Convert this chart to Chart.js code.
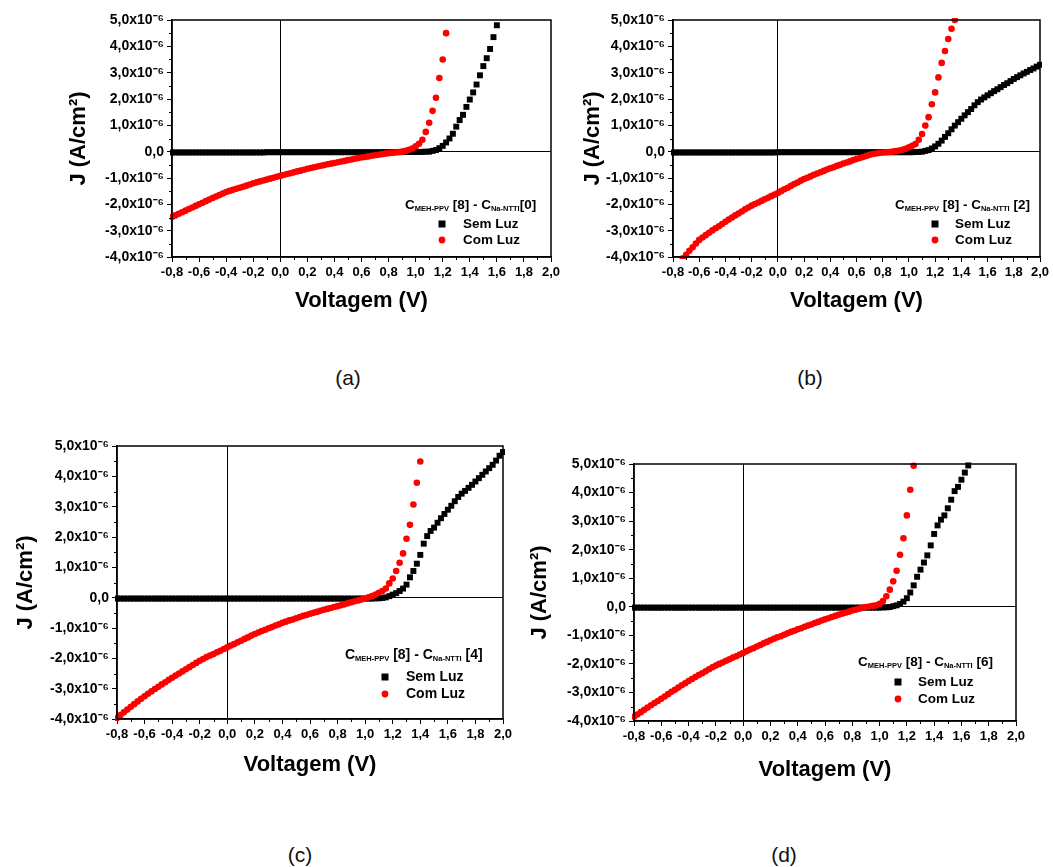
<!DOCTYPE html>
<html><head><meta charset="utf-8">
<script src="https://cdn.jsdelivr.net/npm/chart.js@4.4.1/dist/chart.umd.min.js"></script>
<style>
html,body{margin:0;padding:0;background:#fff}
body{width:1053px;height:867px;position:relative;overflow:hidden;font-family:"Liberation Sans",Arial,sans-serif}
canvas{position:absolute}
.lab{position:absolute;font-size:21px;color:#111;transform:translateX(-50%);line-height:24px}
</style></head><body>
<canvas id="ca"></canvas><canvas id="cb"></canvas><canvas id="cc"></canvas><canvas id="cd"></canvas>
<div class="lab" style="left:348px;top:366px">(a)</div>
<div class="lab" style="left:810px;top:366px">(b)</div>
<div class="lab" style="left:300px;top:843px">(c)</div>
<div class="lab" style="left:784px;top:843px">(d)</div>
<script>
// Voltage grid (V)
const V = [-0.8,-0.775,-0.75,-0.725,-0.7,-0.675,-0.65,-0.625,
-0.6,-0.575,-0.55,-0.525,-0.5,-0.475,-0.45,-0.425,
-0.4,-0.375,-0.35,-0.325,-0.3,-0.275,-0.25,-0.225,
-0.2,-0.175,-0.15,-0.125,-0.1,-0.075,-0.05,-0.025,
0,0.025,0.05,0.075,0.1,0.125,0.15,0.175,
0.2,0.225,0.25,0.275,0.3,0.325,0.35,0.375,
0.4,0.425,0.45,0.475,0.5,0.525,0.55,0.575,
0.6,0.625,0.65,0.675,0.7,0.725,0.75,0.775,
0.8,0.825,0.85,0.875,0.9,0.925,0.95,0.975,
1,1.025,1.05,1.075,1.1,1.125,1.15,1.175,
1.2,1.225,1.25,1.275,1.3,1.325,1.35,1.375,
1.4,1.425,1.45,1.475,1.5,1.525,1.55,1.575,
1.6,1.625,1.65,1.675,1.7,1.725,1.75,1.775,
1.8,1.825,1.85,1.875,1.9,1.925,1.95,1.975,
2];
// J values in units of 1e-6 A/cm^2
const semLuzA = [-0.03,-0.03,-0.03,-0.03,-0.03,-0.03,-0.03,-0.03,
-0.03,-0.03,-0.03,-0.03,-0.03,-0.03,-0.03,-0.03,
-0.03,-0.03,-0.03,-0.03,-0.03,-0.03,-0.03,-0.03,
-0.03,-0.03,-0.03,-0.03,-0.02,-0.02,-0.02,-0.02,
-0.02,-0.02,-0.02,-0.02,-0.02,-0.02,-0.02,-0.02,
-0.02,-0.02,-0.02,-0.02,-0.02,-0.02,-0.02,-0.02,
-0.02,-0.02,-0.02,-0.02,-0.02,-0.02,-0.02,-0.02,
-0.02,-0.02,-0.02,-0.02,-0.02,-0.02,-0.02,-0.02,
-0.02,-0.02,-0.02,-0.02,-0.01,-0.01,-0.01,-0.01,
-0.01,-0.01,-0.01,0.0,0.0,0.03,0.06,0.13,
0.22,0.35,0.5,0.68,0.95,1.2,1.4,1.7,
1.98,2.25,2.55,2.9,3.25,3.55,3.9,4.35,
4.8,null,null,null,null,null,null,null,
null,null,null,null,null,null,null,null,
null];
const comLuzA = [-2.48,-2.42,-2.36,-2.30,-2.24,-2.18,-2.12,-2.06,
-2.00,-1.94,-1.88,-1.82,-1.76,-1.70,-1.65,-1.59,
-1.53,-1.49,-1.45,-1.41,-1.37,-1.33,-1.29,-1.245,
-1.20,-1.165,-1.13,-1.095,-1.06,-1.025,-0.99,-0.955,
-0.92,-0.885,-0.85,-0.82,-0.785,-0.75,-0.72,-0.685,
-0.65,-0.62,-0.59,-0.565,-0.535,-0.51,-0.48,-0.455,
-0.43,-0.40,-0.375,-0.35,-0.32,-0.295,-0.27,-0.245,
-0.22,-0.20,-0.18,-0.155,-0.135,-0.115,-0.095,-0.075,
-0.06,-0.045,-0.03,-0.015,0.0,0.03,0.07,0.12,
0.2,0.3,0.45,0.75,1.1,1.55,2.05,2.8,
3.5,4.5,null,null,null,null,null,null,
null,null,null,null,null,null,null,null,
null,null,null,null,null,null,null,null,
null,null,null,null,null,null,null,null,
null];
const semLuzB = [-0.03,-0.03,-0.03,-0.03,-0.03,-0.03,-0.03,-0.03,
-0.03,-0.03,-0.03,-0.03,-0.03,-0.03,-0.03,-0.03,
-0.03,-0.03,-0.03,-0.03,-0.03,-0.03,-0.03,-0.03,
-0.03,-0.03,-0.03,-0.03,-0.03,-0.03,-0.03,-0.03,
-0.02,-0.02,-0.02,-0.02,-0.02,-0.02,-0.02,-0.02,
-0.02,-0.02,-0.02,-0.02,-0.02,-0.02,-0.02,-0.02,
-0.02,-0.02,-0.02,-0.02,-0.02,-0.02,-0.02,-0.02,
-0.02,-0.02,-0.02,-0.02,-0.02,-0.02,-0.02,-0.02,
-0.02,-0.02,-0.02,-0.02,-0.02,-0.02,-0.02,-0.02,
-0.02,-0.02,-0.01,-0.01,0.0,0.03,0.06,0.12,
0.2,0.3,0.42,0.56,0.7,0.85,0.99,1.12,
1.25,1.38,1.5,1.62,1.76,1.88,1.98,2.06,
2.14,2.22,2.3,2.37,2.45,2.53,2.6,2.68,
2.76,2.83,2.9,2.97,3.03,3.1,3.16,3.23,
3.3];
const comLuzB = [-4.45,-4.31,-4.18,-4.05,-3.92,-3.76,-3.63,-3.49,
-3.35,-3.26,-3.17,-3.08,-2.99,-2.91,-2.83,-2.75,
-2.66,-2.58,-2.50,-2.42,-2.35,-2.27,-2.19,-2.12,
-2.05,-1.99,-1.93,-1.87,-1.81,-1.75,-1.69,-1.63,
-1.57,-1.50,-1.43,-1.37,-1.30,-1.23,-1.17,-1.10,
-1.04,-0.99,-0.94,-0.88,-0.83,-0.78,-0.73,-0.68,
-0.63,-0.59,-0.54,-0.50,-0.45,-0.41,-0.37,-0.32,
-0.28,-0.24,-0.20,-0.16,-0.12,-0.09,-0.07,-0.05,
-0.03,-0.02,-0.01,0.0,0.02,0.04,0.07,0.11,
0.17,0.22,0.29,0.45,0.67,0.99,1.31,1.8,
2.25,2.82,3.37,3.82,4.28,4.67,5.0,null,
null,null,null,null,null,null,null,null,
null,null,null,null,null,null,null,null,
null,null,null,null,null,null,null,null,
null];
const semLuzC = [-0.03,-0.03,-0.03,-0.03,-0.03,-0.03,-0.03,-0.03,
-0.03,-0.03,-0.03,-0.03,-0.03,-0.03,-0.03,-0.03,
-0.03,-0.03,-0.03,-0.03,-0.03,-0.03,-0.03,-0.03,
-0.03,-0.03,-0.03,-0.03,-0.03,-0.03,-0.03,-0.03,
-0.03,-0.03,-0.03,-0.03,-0.03,-0.03,-0.03,-0.03,
-0.03,-0.03,-0.03,-0.03,-0.03,-0.03,-0.03,-0.03,
-0.03,-0.03,-0.03,-0.03,-0.03,-0.03,-0.03,-0.03,
-0.03,-0.03,-0.03,-0.03,-0.03,-0.03,-0.03,-0.03,
-0.03,-0.03,-0.03,-0.03,-0.03,-0.03,-0.03,-0.03,
-0.03,-0.03,-0.03,-0.02,-0.02,-0.01,0.01,0.05,
0.1,0.15,0.22,0.3,0.43,0.67,0.88,1.12,
1.41,1.78,2.03,2.2,2.31,2.47,2.62,2.76,
2.9,3.03,3.18,3.32,3.43,3.52,3.62,3.72,
3.83,3.94,4.05,4.16,4.27,4.38,4.52,4.68,
4.8];
const comLuzC = [-3.97,-3.87,-3.78,-3.69,-3.60,-3.51,-3.42,-3.33,
-3.25,-3.17,-3.09,-3.01,-2.94,-2.86,-2.79,-2.71,
-2.64,-2.57,-2.50,-2.43,-2.36,-2.29,-2.22,-2.15,
-2.08,-2.02,-1.96,-1.91,-1.86,-1.80,-1.75,-1.69,
-1.64,-1.58,-1.53,-1.47,-1.42,-1.36,-1.31,-1.25,
-1.20,-1.15,-1.10,-1.06,-1.01,-0.97,-0.92,-0.88,
-0.83,-0.79,-0.75,-0.72,-0.68,-0.64,-0.60,-0.57,
-0.53,-0.50,-0.47,-0.43,-0.40,-0.37,-0.34,-0.31,
-0.28,-0.25,-0.22,-0.18,-0.15,-0.12,-0.09,-0.06,
-0.03,0.01,0.05,0.1,0.16,0.22,0.3,0.47,
0.63,0.88,1.15,1.46,1.94,2.4,3.07,3.79,
4.49,null,null,null,null,null,null,null,
null,null,null,null,null,null,null,null,
null,null,null,null,null,null,null,null,
null];
const semLuzD = [-0.03,-0.03,-0.03,-0.03,-0.03,-0.03,-0.03,-0.03,
-0.03,-0.03,-0.03,-0.03,-0.03,-0.03,-0.03,-0.03,
-0.03,-0.03,-0.03,-0.03,-0.03,-0.03,-0.03,-0.03,
-0.03,-0.03,-0.03,-0.03,-0.03,-0.03,-0.03,-0.03,
-0.03,-0.03,-0.03,-0.03,-0.03,-0.03,-0.03,-0.03,
-0.03,-0.03,-0.03,-0.03,-0.03,-0.03,-0.03,-0.03,
-0.03,-0.03,-0.03,-0.03,-0.03,-0.03,-0.03,-0.03,
-0.03,-0.03,-0.03,-0.03,-0.03,-0.03,-0.03,-0.03,
-0.03,-0.03,-0.03,-0.03,-0.03,-0.03,-0.03,-0.03,
-0.03,-0.02,-0.02,-0.01,0.02,0.05,0.1,0.18,
0.3,0.5,0.75,1.05,1.3,1.55,1.8,2.15,
2.55,2.85,3.05,3.2,3.45,3.75,4.05,4.2,
4.45,4.7,4.95,null,null,null,null,null,
null,null,null,null,null,null,null,null,
null];
const comLuzD = [-3.85,-3.77,-3.69,-3.61,-3.53,-3.45,-3.37,-3.30,
-3.22,-3.14,-3.06,-2.98,-2.91,-2.83,-2.75,-2.68,
-2.60,-2.53,-2.46,-2.39,-2.33,-2.26,-2.19,-2.12,
-2.06,-2.00,-1.95,-1.89,-1.84,-1.78,-1.73,-1.67,
-1.62,-1.56,-1.50,-1.45,-1.39,-1.34,-1.28,-1.23,
-1.17,-1.12,-1.07,-1.03,-0.98,-0.93,-0.88,-0.84,
-0.79,-0.75,-0.70,-0.66,-0.62,-0.57,-0.53,-0.48,
-0.44,-0.40,-0.36,-0.32,-0.28,-0.24,-0.21,-0.17,
-0.13,-0.10,-0.07,-0.04,-0.01,0.01,0.03,0.05,
0.1,0.2,0.37,0.6,0.89,1.26,1.82,2.4,
3.2,4.1,4.94,null,null,null,null,null,
null,null,null,null,null,null,null,null,
null,null,null,null,null,null,null,null,
null,null,null,null,null,null,null,null,
null];
const xTicks = [-0.8,-0.6,-0.4,-0.2,0,0.2,0.4,0.6,0.8,1.0,1.2,1.4,1.6,1.8,2.0];
const yTicks = [-4,-3,-2,-1,0,1,2,3,4,5];
const seriesNames = ['Sem Luz','Com Luz'];
const legendTags = ['[0]',' [2]',' [4]',' [6]'];

const FONT = '"Liberation Sans", Arial, sans-serif';
const fmt = v => v.toFixed(1).replace('.', ',');

const panels = [
  {id:'ca', area:[172,20,551,257], yTitleX:79, xGap:44, sem:semLuzA, com:comLuzA, tag:legendTags[0],
   lg:{titleL:146, titleY:52, rows:[33,17], mark:109, text:88, font:13.5, sub:7.5}},
  {id:'cb', area:[673,20,1040,257], yTitleX:593, xGap:44, sem:semLuzB, com:comLuzB, tag:legendTags[1],
   lg:{titleL:145, titleY:52, rows:[33,17], mark:105, text:85, font:13.5, sub:7.5}},
  {id:'cc', area:[117,446,503,719], yTitleX:26, xGap:46, sem:semLuzC, com:comLuzC, tag:legendTags[2],
   lg:{titleL:158, titleY:64, rows:[42,25], mark:118, text:97, font:14, sub:7.5}},
  {id:'cd', area:[634,464,1016,721], yTitleX:540, xGap:49, sem:semLuzD, com:comLuzD, tag:legendTags[3],
   lg:{titleL:158, titleY:59, rows:[39,22], mark:118, text:98, font:13.5, sub:7.5}}
];

const LEFTW = 120, TOPP = 20, RIGHTP = 25, BOTH = 62;

const framePlugin = {
  id:'frame',
  afterDatasetsDraw(chart, args, opts){
    const {ctx, chartArea:{left,top,right,bottom}, scales:{x,y}} = chart;
    ctx.save();
    ctx.strokeStyle = '#000';
    ctx.lineWidth = 1;
    ctx.beginPath();
    for (let i=0;i<xTicks.length-1;i++){
      const px = Math.round(x.getPixelForValue((xTicks[i]+xTicks[i+1])/2))+0.5;
      ctx.moveTo(px,bottom); ctx.lineTo(px,bottom+3);
    }
    for (let i=0;i<yTicks.length-1;i++){
      const py = Math.round(y.getPixelForValue((yTicks[i]+yTicks[i+1])/2))+0.5;
      ctx.moveTo(left,py); ctx.lineTo(left-3,py);
    }
    ctx.stroke();
    ctx.lineWidth = 1.5;
    ctx.strokeRect(left, top, right-left, bottom-top);
    const lg = opts.lg;
    ctx.fillStyle = '#000';
    const big = `bold ${lg.font}px ${FONT}`, small = `bold ${lg.sub}px ${FONT}`;
    let tx = right - lg.titleL;
    const ty = bottom - lg.titleY;
    ctx.textBaseline = 'middle';
    ctx.textAlign = 'left';
    const parts = [['C',0],['MEH-PPV',1],[' [8] - C',0],['Na-NTTI',1],[opts.tag,0]];
    for (const [t,s] of parts){
      ctx.font = s ? small : big;
      ctx.fillText(t, tx, ty + (s ? 4 : 0));
      tx += ctx.measureText(t).width;
    }
    const mx = right - lg.mark, txx = right - lg.text;
    const y1 = bottom - lg.rows[0], y2 = bottom - lg.rows[1];
    ctx.fillStyle = '#000';
    ctx.fillRect(mx-3.5, y1-3.5, 7, 7);
    ctx.fillStyle = '#ff0000';
    ctx.beginPath(); ctx.arc(mx, y2, 3.4, 0, Math.PI*2); ctx.fill();
    ctx.fillStyle = '#000';
    ctx.font = big;
    ctx.fillText(seriesNames[0], txx, y1);
    ctx.fillText(seriesNames[1], txx, y2);
    ctx.restore();
  }
};

panels.forEach(p => {
  const [L,T,R,B] = p.area;
  const cv = document.getElementById(p.id);
  const cl = L - LEFTW, ct = T - TOPP;
  const w = (R-L) + LEFTW + RIGHTP, h = (B-T) + TOPP + BOTH;
  cv.width = w; cv.height = h;
  cv.style.left = cl+'px'; cv.style.top = ct+'px';
  cv.style.width = w+'px'; cv.style.height = h+'px';
  const toPts = arr => V.map((v,i)=>({x:v, y:arr[i]})).filter(d=>d.y!==null);
  new Chart(cv, {
    type:'scatter',
    data:{datasets:[
      {label:seriesNames[0], data:toPts(p.sem), pointStyle:'rect', pointRadius:4.2, pointHoverRadius:4.2,
       backgroundColor:'#000', borderColor:'#000', borderWidth:0, order:2, clip:2},
      {label:seriesNames[1], data:toPts(p.com), pointStyle:'circle', pointRadius:3.3, pointHoverRadius:3.3,
       backgroundColor:'#ff0000', borderColor:'#ff0000', borderWidth:0, order:1, clip:2}
    ]},
    options:{
      responsive:false, animation:false, events:[],
      layout:{padding:{left:0, top:TOPP, right:RIGHTP, bottom:0}},
      plugins:{legend:{display:false}, tooltip:{enabled:false}, frame:{lg:p.lg, tag:p.tag}},
      scales:{
        x:{type:'linear', min:-0.8, max:2.0,
           afterBuildTicks: s => { s.ticks = xTicks.map(v=>({value:v})); },
           afterFit: s => { s.height = BOTH; },
           ticks:{autoSkip:false, maxRotation:0, minRotation:0, padding:3, color:'#000',
                  font:{family:FONT, size:13, weight:'bold'}, callback: v => fmt(v)},
           grid:{drawOnChartArea:true, drawTicks:true, tickLength:5, tickColor:'#000', tickWidth:1,
                 color: c => (c.tick && Math.abs(c.tick.value) < 1e-9) ? '#000' : 'rgba(0,0,0,0)', lineWidth:1},
           border:{display:true, color:'#000', width:1.5},
           title:{display:true, text:'Voltagem (V)', color:'#000',
                  font:{family:FONT, size:22, weight:'bold'}, padding:{top:0, bottom: BOTH - p.xGap - 13.2}}
        },
        y:{type:'linear', min:-4, max:5,
           afterBuildTicks: s => { s.ticks = yTicks.map(v=>({value:v})); },
           afterFit: s => { s.width = LEFTW; },
           ticks:{autoSkip:false, padding:3, color:'#000',
                  font:{family:FONT, size:14, weight:'bold'},
                  callback: v => v === 0 ? '0,0' : fmt(v) + 'x10\u207B\u2076'},
           grid:{drawOnChartArea:true, drawTicks:true, tickLength:5, tickColor:'#000', tickWidth:1,
                 color: c => (c.tick && Math.abs(c.tick.value) < 1e-9) ? '#000' : 'rgba(0,0,0,0)', lineWidth:1},
           border:{display:true, color:'#000', width:1.5},
           title:{display:true, text:'J (A/cm\u00B2)', color:'#000',
                  font:{family:FONT, size:22, weight:'bold'}, padding:{top: p.yTitleX - cl - 13.2, bottom:0}}
        }
      }
    },
    plugins:[framePlugin]
  });
});
</script>
</body></html>
